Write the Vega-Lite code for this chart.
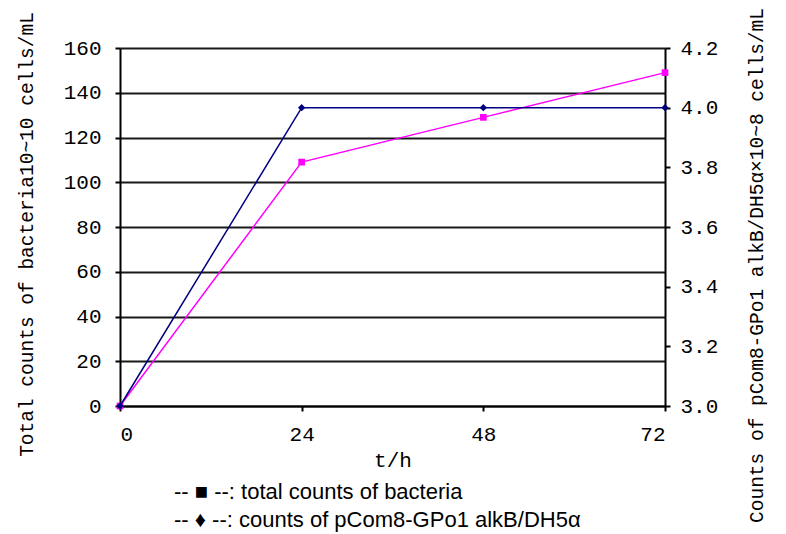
{
  "$schema": "https://vega.github.io/schema/vega-lite/v6.json",
  "width": 545,
  "height": 358,
  "autosize": {"type": "none"},
  "padding": {"left": 120, "top": 48, "right": 121, "bottom": 128},
  "background": "white",
  "config": {"view": {"stroke": null}},
  "data": {
    "values": [
      {"t": 0, "series": "total counts of bacteria", "value": 0},
      {"t": 24, "series": "total counts of bacteria", "value": 109},
      {"t": 48, "series": "total counts of bacteria", "value": 129},
      {"t": 72, "series": "total counts of bacteria", "value": 149},
      {"t": 0, "series": "counts of pCom8-GPo1 alkB/DH5α", "value": 3.0},
      {"t": 24, "series": "counts of pCom8-GPo1 alkB/DH5α", "value": 4.0},
      {"t": 48, "series": "counts of pCom8-GPo1 alkB/DH5α", "value": 4.0},
      {"t": 72, "series": "counts of pCom8-GPo1 alkB/DH5α", "value": 4.0}
    ]
  },
  "encoding": {
    "x": {
      "field": "t", "type": "quantitative",
      "scale": {"domain": [0, 72], "nice": false},
      "axis": {
        "title": "t/h", "values": [0, 24, 48, 72], "grid": false,
        "domainColor": "black", "domainWidth": 2, "tickColor": "black", "tickWidth": 2, "tickSize": 5,
        "labelFont": "Liberation Mono", "labelFontSize": 21, "labelColor": "black", "labelPadding": 12,
        "titleFont": "Liberation Mono", "titleFontSize": 21, "titleFontWeight": "normal", "titleColor": "black", "titlePadding": 5
      }
    }
  },
  "layer": [
    {
      "transform": [{"filter": "datum.series === 'total counts of bacteria'"}],
      "encoding": {
        "y": {
          "field": "value", "type": "quantitative",
          "scale": {"domain": [0, 160], "nice": false},
          "axis": {
            "title": "Total counts of bacteria10~10 cells/mL",
            "values": [0, 20, 40, 60, 80, 100, 120, 140, 160],
            "grid": true, "gridColor": "black", "gridWidth": 2, "gridOpacity": 0.9,
            "domainColor": "black", "domainWidth": 2, "tickColor": "black", "tickWidth": 2, "tickSize": 5,
            "labelFont": "Liberation Mono", "labelFontSize": 21, "labelColor": "black", "labelPadding": 14,
            "titleFont": "Liberation Mono", "titleFontSize": 19.5, "titleFontWeight": "normal", "titleColor": "black", "titlePadding": 27, "titleY": 186
          }
        },
        "color": {
          "field": "series", "type": "nominal",
          "scale": {"domain": ["total counts of bacteria", "counts of pCom8-GPo1 alkB/DH5α"], "range": ["#FF00FF", "#000080"]},
          "legend": {
            "orient": "none", "legendX": 32, "legendY": 433, "title": null,
            "symbolSize": 0, "symbolStrokeWidth": 0, "symbolOpacity": 0, "labelOffset": 0, "labelLimit": 0,
            "labelFont": "Liberation Sans", "labelFontSize": 22, "labelColor": "black", "rowPadding": 6,
            "labelExpr": "datum.label === 'total counts of bacteria' ? '-- ■ --: ' + datum.label : '-- ♦ --: ' + datum.label"
          }
        }
      },
      "layer": [
        {"mark": {"type": "line", "strokeWidth": 1.5}},
        {"mark": {"type": "point", "shape": "square", "filled": true, "size": 45, "opacity": 1}}
      ]
    },
    {
      "transform": [{"filter": "datum.series !== 'total counts of bacteria'"}],
      "encoding": {
        "y": {
          "field": "value", "type": "quantitative",
          "scale": {"domain": [3.0, 4.2], "nice": false, "zero": false},
          "axis": {
            "orient": "right",
            "title": "Counts of pCom8-GPo1 alkB/DH5α×10~8 cells/mL",
            "values": [3.0, 3.2, 3.4, 3.6, 3.8, 4.0, 4.2], "format": ".1f",
            "grid": false,
            "domainColor": "black", "domainWidth": 2, "tickColor": "black", "tickWidth": 2, "tickSize": 5,
            "labelFont": "Liberation Mono", "labelFontSize": 21, "labelColor": "black", "labelPadding": 10,
            "titleFont": "Liberation Mono", "titleFontSize": 19.5, "titleFontWeight": "normal", "titleColor": "black", "titlePadding": 49, "titleY": 217, "titleAngle": 270, "titleBaseline": "bottom"
          }
        },
        "color": {"field": "series", "type": "nominal", "legend": null}
      },
      "layer": [
        {"mark": {"type": "line", "strokeWidth": 1.5}},
        {"mark": {"type": "point", "shape": "diamond", "filled": true, "size": 55, "opacity": 1}}
      ]
    }
  ],
  "resolve": {"scale": {"y": "independent"}}
}
